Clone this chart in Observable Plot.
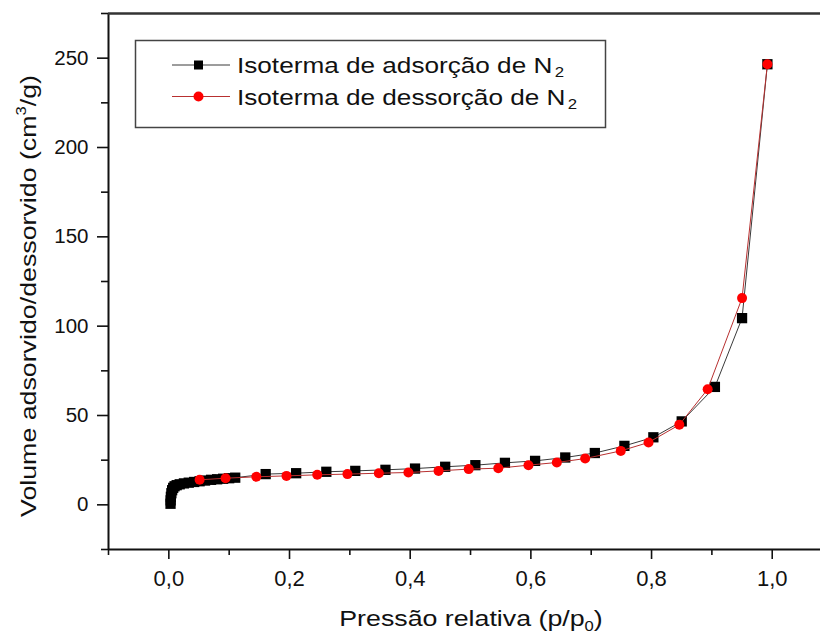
<!DOCTYPE html>
<html>
<head>
<meta charset="utf-8">
<script src="https://cdn.jsdelivr.net/npm/d3@7"></script>
<script src="https://cdn.jsdelivr.net/npm/@observablehq/plot@0.6"></script>
<style>
  html, body { margin: 0; padding: 0; background: #fff; }
  #chart { position: relative; width: 820px; height: 635px; }
</style>
</head>
<body>
<div id="chart"></div>
<script>
// N2 adsorption branch: relative pressure p/p0 and adsorbed volume (cm3/g)
const adsP = [0.0028, 0.0030, 0.0034, 0.0042, 0.0055, 0.0072, 0.0095, 0.013, 0.018, 0.025, 0.033, 0.042, 0.051, 0.060, 0.070, 0.080, 0.090, 0.100, 0.110,
              0.1605, 0.211, 0.261, 0.309, 0.359, 0.408, 0.458, 0.508, 0.557, 0.607, 0.657, 0.706, 0.755, 0.803, 0.850, 0.905, 0.950, 0.992];
const adsV = [0.6, 2.5, 4.5, 6.5, 8.2, 9.5, 10.4, 11.0, 11.5, 12.0, 12.4, 12.8, 13.2, 13.6, 14.0, 14.3, 14.6, 14.9, 15.2,
              17.2, 17.7, 18.5, 19.0, 19.6, 20.3, 21.3, 22.2, 23.5, 24.6, 26.5, 29.0, 33.0, 37.8, 46.7, 66.0, 104.5, 246.6];

// N2 desorption branch, from high to low relative pressure
const desP = [0.992, 0.950, 0.893, 0.846, 0.795, 0.749, 0.690, 0.643, 0.596, 0.546, 0.497, 0.447, 0.397, 0.348, 0.296, 0.246, 0.195, 0.145, 0.094, 0.051];
const desV = [246.6, 115.7, 64.7, 44.8, 34.9, 30.2, 25.9, 23.7, 22.2, 20.5, 20.0, 19.0, 18.1, 17.7, 17.2, 16.8, 16.2, 15.7, 14.9, 14.0];

// Axis ticks
const xTicks = [0, 0.2, 0.4, 0.6, 0.8, 1.0];
const xMinor = [-0.1, 0.1, 0.3, 0.5, 0.7, 0.9];
const yTicks = [0, 50, 100, 150, 200, 250];
const yMinor = [-25, 25, 75, 125, 175, 225, 275];
const xDomain = [-0.1, 1.08];
const yDomain = [-25, 275];

// Text
const legendAds = "Isoterma de adsorção de N";
const legendDes = "Isoterma de dessorção de N";
const xTitle = ["Pressão relativa (p/p", "0", ")"];
const yTitle = ["Volume adsorvido/dessorvido (cm", "3", "/g)"];

const ads = adsP.map((p, i) => ({p, v: adsV[i]}));
const des = desP.map((p, i) => ({p, v: desV[i]}));

const FONT = "'Liberation Sans', Arial, Helvetica, sans-serif";
const commaFmt = d => d3.format(".1f")(d).replace(".", ",");

const chart = Plot.plot({
  width: 820,
  height: 635,
  marginLeft: 108,
  marginRight: 0,
  marginTop: 13,
  marginBottom: 86,
  x: {domain: xDomain},
  y: {domain: yDomain},
  style: {fontFamily: FONT, fontSize: "20px", color: "#111", background: "#fff", overflow: "visible"},
  marks: [
    Plot.axisY(yTicks, {tickSize: 11, tickPadding: 9, fontSize: 20.5, strokeWidth: 1.6, label: null}),
    Plot.axisY(yMinor, {tickSize: 7, text: null, strokeWidth: 1.6, label: null}),
    Plot.axisX(xTicks, {tickSize: 10, tickPadding: 11, fontSize: 22, strokeWidth: 1.6, tickFormat: commaFmt, label: null}),
    Plot.axisX(xMinor, {tickSize: 6, text: null, strokeWidth: 1.6, label: null}),
    Plot.ruleX([xDomain[0]], {stroke: "#111", strokeWidth: 2}),
    Plot.ruleY([yDomain[0]], {stroke: "#111", strokeWidth: 2}),
    Plot.ruleY([yDomain[1]], {stroke: "#333", strokeWidth: 2.5}),
    Plot.line(ads, {x: "p", y: "v", stroke: "#3a3a3a", strokeWidth: 1}),
    Plot.dot(ads, {x: "p", y: "v", symbol: "square", r: 5.8, fill: "#000"}),
    Plot.line(des, {x: "p", y: "v", stroke: "#b83030", strokeWidth: 1}),
    Plot.dot(des, {x: "p", y: "v", r: 5, fill: "#ff0000"})
  ]
});

document.getElementById("chart").appendChild(chart);

const svg = d3.select(chart);
const STRETCH = 1.2;

// Axis titles (with sub/superscript)
function scriptText(g, parts, size, shift) {
  const t = g.append("text")
    .attr("text-anchor", "middle")
    .attr("font-family", FONT)
    .attr("font-size", size)
    .attr("fill", "#111");
  t.append("tspan").text(parts[0]);
  t.append("tspan").attr("font-size", size * 0.62).attr("dy", shift).text(parts[1]);
  t.append("tspan").attr("dy", -shift).text(parts[2]);
  return t;
}

scriptText(
  svg.append("g").attr("transform", `translate(471,626) scale(${STRETCH},1)`),
  xTitle, 22.3, 5
);
scriptText(
  svg.append("g").attr("transform", `translate(36,296) rotate(-90) scale(${STRETCH},1)`),
  yTitle, 22.3, -10
);

// Legend
const lg = svg.append("g").attr("text-anchor", "start");
lg.append("rect")
  .attr("x", 135.5).attr("y", 40.5).attr("width", 470).attr("height", 87)
  .attr("fill", "#fff").attr("stroke", "#444").attr("stroke-width", 1.5);

function legendRow(cy, label, lineColor, drawMarker) {
  lg.append("line").attr("x1", 172).attr("x2", 230).attr("y1", cy).attr("y2", cy)
    .attr("stroke", lineColor).attr("stroke-width", 1);
  drawMarker(cy);
  const g = lg.append("g").attr("transform", `translate(237,${cy + 8}) scale(${STRETCH},1)`);
  const t = g.append("text")
    .attr("text-anchor", "start")
    .attr("font-family", FONT).attr("font-size", 21.8).attr("fill", "#111");
  t.append("tspan").text(label);
  t.append("tspan").attr("font-size", 14).attr("dx", 2).attr("dy", 4).text("2");
}

legendRow(65, legendAds, "#3a3a3a", cy =>
  lg.append("rect").attr("x", 194).attr("y", cy - 4.5).attr("width", 9).attr("height", 9).attr("fill", "#000"));
legendRow(96.5, legendDes, "#b83030", cy =>
  lg.append("circle").attr("cx", 198.5).attr("cy", cy).attr("r", 5).attr("fill", "#ff0000"));
</script>
</body>
</html>
